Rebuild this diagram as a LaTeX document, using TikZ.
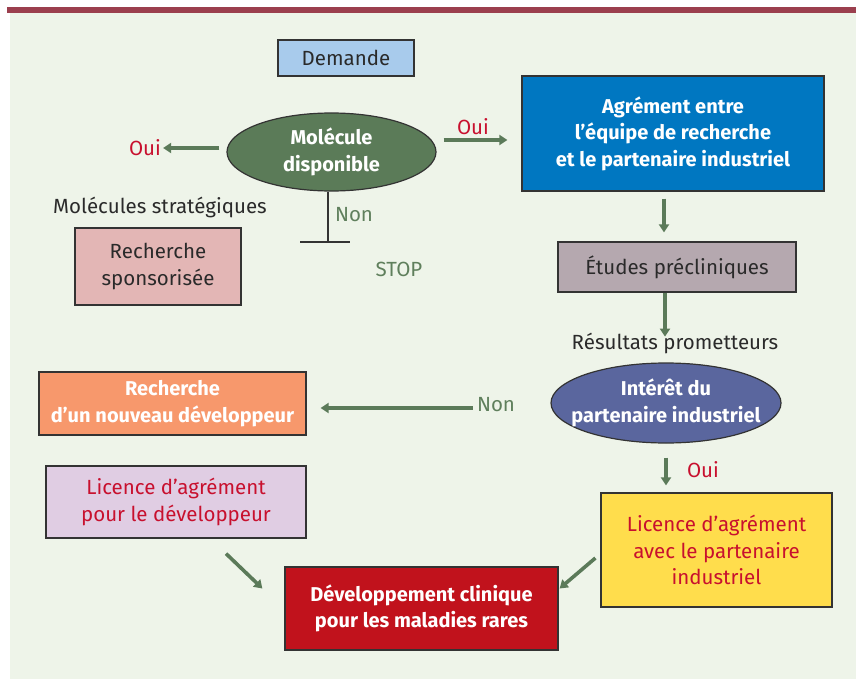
\documentclass[tikz,border=0pt]{standalone}
\usepackage{fontspec}
\setmainfont{Fira Sans}
\usetikzlibrary{arrows.meta,calc,shapes.geometric}
\definecolor{bgc}{HTML}{EEF4E9}
\definecolor{barc}{HTML}{9B3F4E}
\definecolor{demc}{HTML}{A8CBEC}
\definecolor{molc}{HTML}{5B7B58}
\definecolor{agrc}{HTML}{0077C1}
\definecolor{etuc}{HTML}{B5A8AF}
\definecolor{intc}{HTML}{5A669E}
\definecolor{yelc}{HTML}{FFDD4C}
\definecolor{devc}{HTML}{C1121C}
\definecolor{lilc}{HTML}{E0CDE3}
\definecolor{orac}{HTML}{F7986C}
\definecolor{spoc}{HTML}{E3B6B5}
\definecolor{redt}{HTML}{C8102E}
\definecolor{grnt}{HTML}{5F7F5C}
\definecolor{arrc}{HTML}{5B7A59}
\definecolor{darkt}{HTML}{2A2A2A}
\definecolor{bordc}{HTML}{333333}
\tikzset{
  txt/.style={font=\fontsize{20.5}{26.5}\selectfont, align=center, inner sep=0pt},
  btxt/.style={font=\fontsize{20}{26.5}\selectfont\bfseries, align=center, inner sep=0pt},
  boxn/.style={draw=bordc, line width=1.2pt, rectangle, align=center, inner sep=0pt},
  elln/.style={draw=black!80, line width=1.2pt, ellipse, inner sep=0pt},
  arr/.style={draw=arrc, line width=3.6pt, -{Triangle[length=8pt,width=10pt]}},
}
\begin{document}
\begin{tikzpicture}[x=1pt,y=-1pt]
\useasboundingbox (0,0) rectangle (856,679);
\fill[bgc] (10,13) rectangle (856,679);
\fill[barc] (7,7.5) rectangle (856,13);

\node[boxn, fill=demc, minimum width=136pt, minimum height=36pt, txt, text=darkt] (dem) at (346,58) {Demande};
\node[elln, fill=molc, minimum width=209pt, minimum height=78pt] (mol) at (331.5,152) {};
\node[btxt, text=white] (molt) at (mol.center) {Molécule\\disponible};
\node[boxn, fill=agrc, minimum width=302pt, minimum height=115pt, btxt, text=white] (agr) at (673,133.5) {Agrément entre\\l’équipe de recherche\\et le partenaire industriel};
\node[boxn, fill=etuc, minimum width=238pt, minimum height=50pt, txt, text=darkt] (etu) at (677,267) {Études précliniques};
\node[txt, text=darkt] (res) at (675,343) {Résultats prometteurs};
\node[elln, fill=intc, minimum width=230pt, minimum height=80pt] (int) at (666,403) {};
\node[btxt, text=white] (intt) at (int.center) {Intérêt du\\partenaire industriel};
\node[boxn, fill=yelc, minimum width=231pt, minimum height=114pt, txt, text=redt] (lic) at (716.5,550) {Licence d’agrément\\avec le partenaire\\industriel};
\node[boxn, fill=devc, minimum width=273pt, minimum height=83pt, btxt, text=white] (dev) at (421.5,608.5) {Développement clinique\\pour les maladies rares};
\node[boxn, fill=lilc, minimum width=260pt, minimum height=72pt, txt, text=redt] (lil) at (176,502) {Licence d’agrément\\pour le développeur};
\node[boxn, fill=orac, minimum width=267pt, minimum height=63pt, btxt, text=white] (rech) at (172.5,403.5) {Recherche\\d’un nouveau développeur};
\node[boxn, fill=spoc, minimum width=166pt, minimum height=77pt, txt, text=darkt] (spo) at (158,266.5) {Recherche\\sponsorisée};
\node[txt, text=darkt] (strat) at (160,207) {Molécules stratégiques};

\node[txt, text=redt] (ouiL) at (145,148) {Oui};
\node[txt, text=redt] (ouiR) at (473,127) {Oui};
\node[txt, text=redt] (ouiB) at (703,470) {Oui};
\node[txt, text=grnt] (nonR) at (496,405) {Non};
\node[txt, text=grnt] (nonS) at (354,215) {Non};
\node[txt, text=grnt] (stop) at (399,269) {STOP};

\coordinate (stopc) at (328,242);
\draw[bordc, line width=1.5pt] (mol.south -| stopc) -- (stopc);
\draw[bordc, line width=1.5pt] ($(stopc)+(-28,0)$) -- ($(stopc)+(22,0)$);

\draw[arr] ($(mol.west)+(-7,-4)$) -- ($(ouiL.east)+(2,0)$);
\draw[arr] ($(mol.east)+(7,-12)$) -- ($(agr.west)+(-14,6.5)$);
\draw[arr] ($(agr.south)+(-9,7)$) -- ($(etu.north)+(-13,-9)$);
\draw[arr] ($(etu.south)+(-12,0)$) -- ($(etu.south)+(-12,44)$);
\draw[arr] ($(int.south)+(0,14)$) -- ($(lic.north -| int.south)+(0,-7)$);
\draw[arr] ($(nonR.west)+(-4,3)$) -- ($(rech.east)+(14,4.5)$);
\draw[arr] ($(lic.west)+(-5,8)$) -- ($(dev.east)+(1,-20)$);
\draw[arr] ($(lil.south)+(50,15)$) -- ($(dev.west)+(-22,-20)$);
\end{tikzpicture}
\end{document}
